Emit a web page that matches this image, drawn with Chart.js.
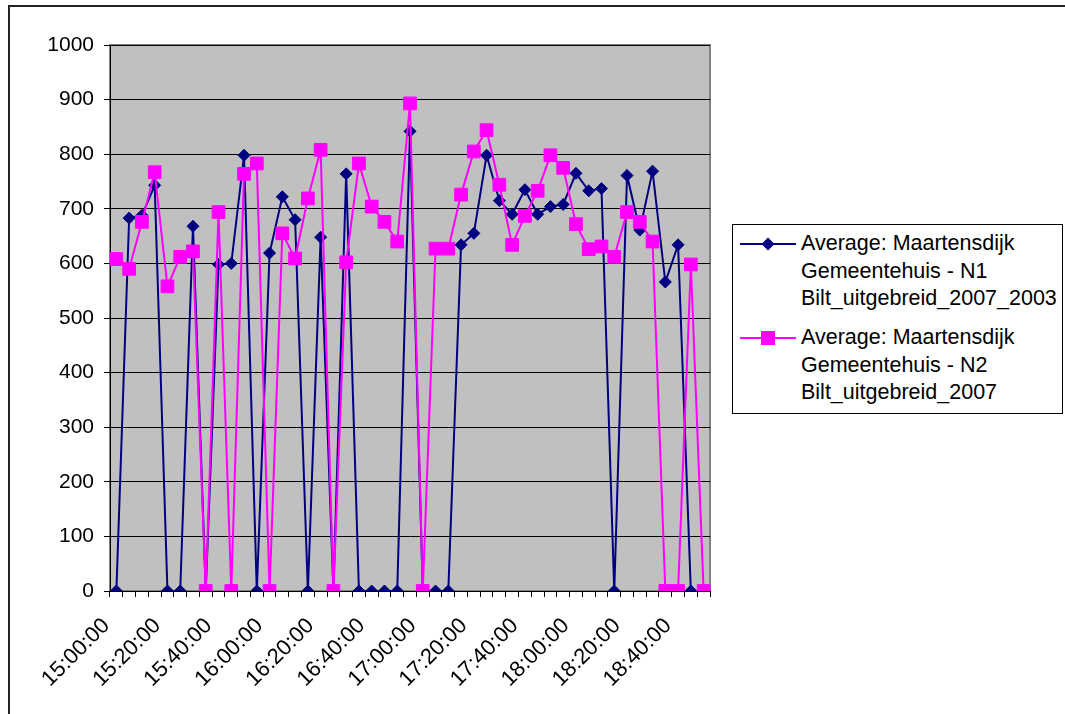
<!DOCTYPE html>
<html>
<head>
<meta charset="utf-8">
<script src="https://cdn.jsdelivr.net/npm/chart.js@4"></script>
<style>
  body { margin: 0; background: #fff; }
  #wrap { position: relative; width: 1065px; height: 714px; overflow: hidden; }
  #frame { position: absolute; left: 8px; top: 5px; width: 1200px; height: 900px; border-left: 2px solid #222; border-top: 2px solid #222; }
  #chartBox { position: absolute; left: 0; top: 0; width: 1065px; height: 714px; }
  #legend {
    position: absolute; left: 732px; top: 224px; width: 329px; height: 188px;
    border: 1px solid #000; background: #fff;
    font-family: "Liberation Sans", Arial, sans-serif; font-size: 21.5px; line-height: 27.5px; color: #000;
  }
  .entry { position: absolute; left: 0; }
  .entry svg { position: absolute; left: 7px; top: 4px; }
  .entry span { position: absolute; left: 68px; top: 0; white-space: nowrap; }
</style>
</head>
<body>
<div id="wrap">
  <div id="frame"></div>
  <div id="chartBox"><canvas id="myChart"></canvas></div>
  <div id="legend">
    <div class="entry" style="top:5px">
      <svg width="56" height="20">
        <line x1="0" y1="10" x2="56" y2="10" stroke="#000080" stroke-width="2"/>
        <polygon points="28,3.5 34.5,10 28,16.5 21.5,10" fill="#000080"/>
      </svg>
      <span>Average: Maartensdijk<br>Gemeentehuis - N1<br>Bilt_uitgebreid_2007_2003</span>
    </div>
    <div class="entry" style="top:99px">
      <svg width="56" height="20">
        <line x1="0" y1="10" x2="56" y2="10" stroke="#FF00FF" stroke-width="2"/>
        <rect x="21" y="3" width="14" height="14" fill="#FF00FF"/>
      </svg>
      <span>Average: Maartensdijk<br>Gemeentehuis - N2<br>Bilt_uitgebreid_2007</span>
    </div>
  </div>
</div>

<script>
// ----------- DATA ------------
const times = [
  "15:00:00", "15:05:00", "15:10:00", "15:15:00", "15:20:00", "15:25:00",
  "15:30:00", "15:35:00", "15:40:00", "15:45:00", "15:50:00", "15:55:00",
  "16:00:00", "16:05:00", "16:10:00", "16:15:00", "16:20:00", "16:25:00",
  "16:30:00", "16:35:00", "16:40:00", "16:45:00", "16:50:00", "16:55:00",
  "17:00:00", "17:05:00", "17:10:00", "17:15:00", "17:20:00", "17:25:00",
  "17:30:00", "17:35:00", "17:40:00", "17:45:00", "17:50:00", "17:55:00",
  "18:00:00", "18:05:00", "18:10:00", "18:15:00", "18:20:00", "18:25:00",
  "18:30:00", "18:35:00", "18:40:00", "18:45:00", "18:50:00",
];

// N1 Bilt_uitgebreid_2007_2003
const valuesN1 = [
  0, 683, 688, 743, 0, 0, 668, 0, 598, 600, 798, 0,
  619, 722, 680, 0, 648, 0, 764, 0, 0, 0, 0, 842,
  0, 0, 0, 634, 655, 798, 715, 690, 735, 690, 704, 708,
  765, 733, 737, 0, 761, 661, 769, 566, 634, 0, 0,
];

// N2 Bilt_uitgebreid_2007
const valuesN2 = [
  608, 590, 676, 767, 558, 612, 622, 0, 694, 0, 764, 783,
  0, 655, 609, 719, 808, 0, 602, 783, 704, 676, 640, 893,
  0, 627, 627, 726, 805, 844, 744, 634, 687, 733, 798, 775,
  672, 626, 631, 612, 694, 676, 640, 0, 0, 598, 0,
];

const yTicks = [0, 100, 200, 300, 400, 500, 600, 700, 800, 900, 1000];

const fontName = "'Liberation Sans', Arial, sans-serif";

// grey plot area like excel
const plotBackground = {
  id: "plotBackground",
  beforeDraw(chart) {
    const { ctx, chartArea } = chart;
    ctx.save();
    ctx.fillStyle = "#C0C0C0";
    ctx.fillRect(chartArea.left, chartArea.top, chartArea.width, chartArea.height);
    ctx.strokeStyle = "#808080";
    ctx.lineWidth = 2;
    ctx.strokeRect(chartArea.left, chartArea.top, chartArea.width, chartArea.height);
    ctx.restore();
  },
};

const ctx = document.getElementById("myChart").getContext("2d");
const chart = new Chart(ctx, {
  type: "line",
  data: {
    labels: times,
    datasets: [
      {
        label: "Average: Maartensdijk Gemeentehuis - N1 Bilt_uitgebreid_2007_2003",
        data: valuesN1,
        borderColor: "#000080",
        backgroundColor: "#000080",
        borderWidth: 2,
        pointStyle: "rectRot",
        pointRadius: 6,
        pointBorderWidth: 1,
        pointBackgroundColor: "#000080",
        pointBorderColor: "#000080",
        tension: 0,
        order: 2,
      },
      {
        label: "Average: Maartensdijk Gemeentehuis - N2 Bilt_uitgebreid_2007",
        data: valuesN2,
        borderColor: "#FF00FF",
        backgroundColor: "#FF00FF",
        borderWidth: 2,
        pointStyle: "rect",
        pointRadius: 9,
        pointBorderWidth: 1,
        pointBackgroundColor: "#FF00FF",
        pointBorderColor: "#FF00FF",
        tension: 0,
        order: 1,
      },
    ],
  },
  options: {
    responsive: true,
    maintainAspectRatio: false,
    animation: false,
    layout: { padding: { left: 0, top: 45, right: 355, bottom: 0 } },
    plugins: {
      legend: { display: false },
      tooltip: { enabled: false },
    },
    scales: {
      x: {
        offset: true,
        grid: {
          offset: true,
          drawOnChartArea: false,
          drawTicks: true,
          tickLength: 6,
          color: "#000",
        },
        border: { color: "#000", width: 1 },
        ticks: {
          autoSkip: false,
          maxRotation: 45,
          minRotation: 45,
          padding: 16,
          labelOffset: -10,
          color: "#000",
          font: { family: fontName, size: 22 },
          callback: function (val, idx) {
            return idx % 4 === 0 ? this.getLabelForValue(val) : "";
          },
        },
        afterFit(scale) {
          scale.height = 123;
        },
      },
      y: {
        min: 0,
        max: 1000,
        afterBuildTicks(scale) {
          scale.ticks = yTicks.map((v) => ({ value: v }));
        },
        grid: { color: "#000", lineWidth: 1, tickLength: 6 },
        border: { color: "#000", width: 1 },
        ticks: {
          padding: 10,
          color: "#000",
          font: { family: fontName, size: 21 },
          callback: (v) => String(v),
        },
        afterFit(scale) {
          scale.width = 110;
        },
      },
    },
  },
  plugins: [plotBackground],
});
</script>
</body>
</html>
